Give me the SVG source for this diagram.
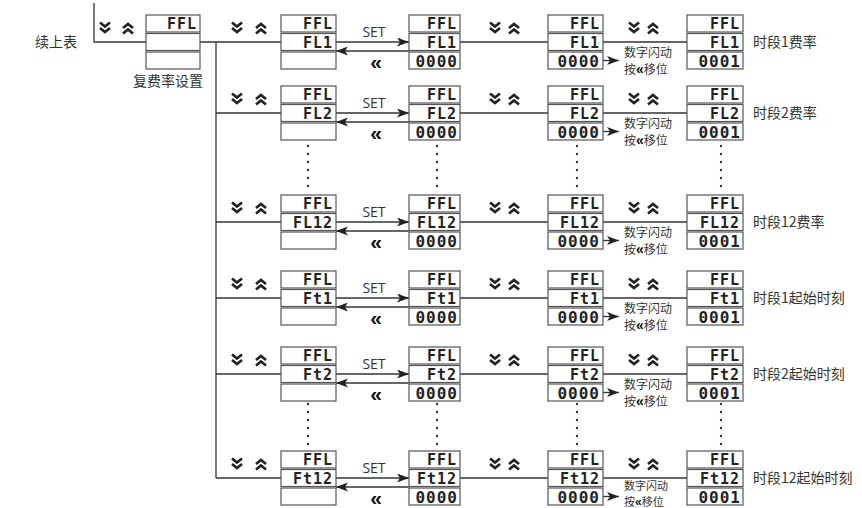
<svg xmlns="http://www.w3.org/2000/svg" width="862" height="508" viewBox="0 0 862 508">
<style>
.bg{fill:#fff}
.box{fill:#fff;stroke:#555;stroke-width:1.2}
.seg{font-family:"DejaVu Sans Mono",monospace;font-weight:bold;font-size:15px;fill:#222;text-anchor:end;letter-spacing:1px}
.dig{font-family:"DejaVu Sans Mono",monospace;font-weight:bold;font-size:16px;fill:#222;text-anchor:end;letter-spacing:1px}
.ln{stroke:#333;stroke-width:1.3;fill:none}
.arr{stroke:#333;stroke-width:1.3;fill:none;marker-end:url(#ah)}
.cjk{font-family:"Noto Sans CJK SC","Noto Sans",sans-serif;fill:#333}
.lbl{font-size:14px}
.sm{font-size:12px}
.xs{font-size:11px}
.set{font-family:"Open Sans","Liberation Sans",Arial,sans-serif;font-size:14px;fill:#333;text-anchor:middle}
.dbl{font-family:"Liberation Sans",Arial,sans-serif;font-weight:bold;font-size:21px;fill:#111;text-anchor:middle}
.bk{font-family:"Liberation Sans",Arial,sans-serif;font-weight:bold;font-size:14px;fill:#111}
.bks{font-family:"Liberation Sans",Arial,sans-serif;font-weight:bold;font-size:12px;fill:#111}
.chev{fill:none;stroke:#222;stroke-width:2.7}
.dot{fill:#333}
</style>
<defs>
<marker id="ah" markerWidth="12" markerHeight="9" refX="12" refY="4.5" orient="auto" markerUnits="userSpaceOnUse"><path d="M0,0 L12,4.5 L0,9 L3,4.5 z" fill="#222"/></marker>
<path id="cdn" class="chev" d="M-5,-5.5 L0,-1.5 L5,-5.5 M-5,0 L0,4 L5,0"/>
<path id="cup" class="chev" d="M-5,5.5 L0,1.5 L5,5.5 M-5,0 L0,-4 L5,0"/>
<g id="dots6"><circle cx="0" cy="0" r="1.2"/><circle cx="0" cy="8" r="1.2"/><circle cx="0" cy="16" r="1.2"/><circle cx="0" cy="24" r="1.2"/><circle cx="0" cy="32" r="1.2"/><circle cx="0" cy="40" r="1.2"/></g>
</defs>
<rect class="bg" x="0" y="0" width="862" height="508"/>

<!-- connectors -->
<g id="connectors">
<polyline class="ln" points="94,3 94,42 146,42"/>
<line class="ln" x1="200" y1="42" x2="281" y2="42"/>
<line class="ln" x1="216" y1="42" x2="216" y2="478"/>
<line class="ln" x1="216" y1="113" x2="281" y2="113"/>
<line class="ln" x1="216" y1="222" x2="281" y2="222"/>
<line class="ln" x1="216" y1="298" x2="281" y2="298"/>
<line class="ln" x1="216" y1="374" x2="281" y2="374"/>
<line class="ln" x1="216" y1="478" x2="281" y2="478"/>
<!-- row1 -->
<line class="arr" x1="336" y1="42" x2="409" y2="42"/>
<line class="arr" x1="409" y1="51" x2="336" y2="51"/>
<line class="ln" x1="460" y1="42" x2="548" y2="42"/>
<line class="ln" x1="603" y1="42" x2="687" y2="42"/>
<line class="arr" x1="603" y1="60.5" x2="619" y2="60.5"/>
<!-- row2 -->
<line class="arr" x1="336" y1="113" x2="409" y2="113"/>
<line class="arr" x1="409" y1="122" x2="336" y2="122"/>
<line class="ln" x1="460" y1="113" x2="548" y2="113"/>
<line class="ln" x1="603" y1="113" x2="687" y2="113"/>
<line class="arr" x1="603" y1="131.5" x2="619" y2="131.5"/>
<!-- row3 -->
<line class="arr" x1="336" y1="222" x2="409" y2="222"/>
<line class="arr" x1="409" y1="231" x2="336" y2="231"/>
<line class="ln" x1="460" y1="222" x2="548" y2="222"/>
<line class="ln" x1="603" y1="222" x2="687" y2="222"/>
<line class="arr" x1="603" y1="240.5" x2="619" y2="240.5"/>
<!-- row4 -->
<line class="arr" x1="336" y1="298" x2="409" y2="298"/>
<line class="arr" x1="409" y1="307" x2="336" y2="307"/>
<line class="ln" x1="460" y1="298" x2="548" y2="298"/>
<line class="ln" x1="603" y1="298" x2="687" y2="298"/>
<line class="arr" x1="603" y1="316.5" x2="619" y2="316.5"/>
<!-- row5 -->
<line class="arr" x1="336" y1="374" x2="409" y2="374"/>
<line class="arr" x1="409" y1="383" x2="336" y2="383"/>
<line class="ln" x1="460" y1="374" x2="548" y2="374"/>
<line class="ln" x1="603" y1="374" x2="687" y2="374"/>
<line class="arr" x1="603" y1="392.5" x2="619" y2="392.5"/>
<!-- row6 -->
<line class="arr" x1="336" y1="478" x2="409" y2="478"/>
<line class="arr" x1="409" y1="487" x2="336" y2="487"/>
<line class="ln" x1="460" y1="478" x2="548" y2="478"/>
<line class="ln" x1="603" y1="478" x2="687" y2="478"/>
<line class="arr" x1="603" y1="496.5" x2="619" y2="496.5"/>
<!-- dotted continuations -->
<g class="dot">
<use href="#dots6" x="308" y="146"/><use href="#dots6" x="437" y="146"/><use href="#dots6" x="577" y="146"/><use href="#dots6" x="721" y="146"/>
<use href="#dots6" x="308" y="404"/><use href="#dots6" x="437" y="404"/><use href="#dots6" x="577" y="404"/><use href="#dots6" x="721" y="404"/>
</g>
</g>

<!-- start node -->
<g id="start">
<text class="cjk lbl" x="35" y="47">续上表</text>
<use href="#cdn" x="105" y="28"/><use href="#cup" x="128" y="28"/>
<rect class="box" x="146" y="15" width="54" height="17"/>
<rect class="box" x="146" y="33.5" width="54" height="17"/>
<rect class="box" x="146" y="52" width="54" height="17"/>
<text class="seg" x="197" y="29">FFL</text>
<text class="cjk" font-size="14" x="133" y="86">复费率设置</text>
</g>

<!-- ROW 1 -->
<g id="r1-b1"><use href="#cdn" x="237" y="28"/><use href="#cup" x="261" y="28"/>
<rect class="box" x="281" y="15" width="55" height="17"/><rect class="box" x="281" y="33.5" width="55" height="17"/><rect class="box" x="281" y="52" width="55" height="17"/>
<text class="seg" x="333" y="29">FFL</text><text class="seg" x="333" y="47.5">FL1</text></g>
<g id="r1-set"><text class="set" x="374" y="37">SET</text><text class="dbl" x="376" y="69">«</text></g>
<g id="r1-b2"><rect class="box" x="409" y="15" width="51" height="17"/><rect class="box" x="409" y="33.5" width="51" height="17"/><rect class="box" x="409" y="52" width="51" height="17"/>
<text class="seg" x="457" y="29">FFL</text><text class="seg" x="457" y="47.5">FL1</text><text class="dig" x="458" y="66.5">0000</text></g>
<g id="r1-b3"><use href="#cdn" x="495" y="28"/><use href="#cup" x="514" y="28"/>
<rect class="box" x="548" y="15" width="55" height="17"/><rect class="box" x="548" y="33.5" width="55" height="17"/><rect class="box" x="548" y="52" width="55" height="17"/>
<text class="seg" x="600" y="29">FFL</text><text class="seg" x="600" y="47.5">FL1</text><text class="dig" x="600" y="66.5">0000</text>
<text class="cjk sm" x="624" y="57">数字闪动</text><text class="cjk sm" x="624" y="74">按<tspan class="bk">«</tspan>移位</text></g>
<g id="r1-b4"><use href="#cdn" x="634" y="28"/><use href="#cup" x="653" y="28"/>
<rect class="box" x="687" y="15" width="56" height="17"/><rect class="box" x="687" y="33.5" width="56" height="17"/><rect class="box" x="687" y="52" width="56" height="17"/>
<text class="seg" x="740" y="29">FFL</text><text class="seg" x="740" y="47.5">FL1</text><text class="dig" x="741" y="66.5">0001</text>
<text class="cjk lbl" x="753" y="47">时段1费率</text></g>

<!-- ROW 2 -->
<g id="r2-b1"><use href="#cdn" x="237" y="99"/><use href="#cup" x="261" y="99"/>
<rect class="box" x="281" y="86" width="55" height="17"/><rect class="box" x="281" y="104.5" width="55" height="17"/><rect class="box" x="281" y="123" width="55" height="17"/>
<text class="seg" x="333" y="100">FFL</text><text class="seg" x="333" y="118.5">FL2</text></g>
<g id="r2-set"><text class="set" x="374" y="108">SET</text><text class="dbl" x="376" y="140">«</text></g>
<g id="r2-b2"><rect class="box" x="409" y="86" width="51" height="17"/><rect class="box" x="409" y="104.5" width="51" height="17"/><rect class="box" x="409" y="123" width="51" height="17"/>
<text class="seg" x="457" y="100">FFL</text><text class="seg" x="457" y="118.5">FL2</text><text class="dig" x="458" y="137.5">0000</text></g>
<g id="r2-b3"><use href="#cdn" x="495" y="99"/><use href="#cup" x="514" y="99"/>
<rect class="box" x="548" y="86" width="55" height="17"/><rect class="box" x="548" y="104.5" width="55" height="17"/><rect class="box" x="548" y="123" width="55" height="17"/>
<text class="seg" x="600" y="100">FFL</text><text class="seg" x="600" y="118.5">FL2</text><text class="dig" x="600" y="137.5">0000</text>
<text class="cjk sm" x="624" y="128">数字闪动</text><text class="cjk sm" x="624" y="145">按<tspan class="bk">«</tspan>移位</text></g>
<g id="r2-b4"><use href="#cdn" x="634" y="99"/><use href="#cup" x="653" y="99"/>
<rect class="box" x="687" y="86" width="56" height="17"/><rect class="box" x="687" y="104.5" width="56" height="17"/><rect class="box" x="687" y="123" width="56" height="17"/>
<text class="seg" x="740" y="100">FFL</text><text class="seg" x="740" y="118.5">FL2</text><text class="dig" x="741" y="137.5">0001</text>
<text class="cjk lbl" x="753" y="118">时段2费率</text></g>

<!-- ROW 3 -->
<g id="r3-b1"><use href="#cdn" x="237" y="208"/><use href="#cup" x="261" y="208"/>
<rect class="box" x="281" y="195" width="55" height="17"/><rect class="box" x="281" y="213.5" width="55" height="17"/><rect class="box" x="281" y="232" width="55" height="17"/>
<text class="seg" x="333" y="209">FFL</text><text class="seg" x="333" y="227.5">FL12</text></g>
<g id="r3-set"><text class="set" x="374" y="217">SET</text><text class="dbl" x="376" y="249">«</text></g>
<g id="r3-b2"><rect class="box" x="409" y="195" width="51" height="17"/><rect class="box" x="409" y="213.5" width="51" height="17"/><rect class="box" x="409" y="232" width="51" height="17"/>
<text class="seg" x="457" y="209">FFL</text><text class="seg" x="457" y="227.5">FL12</text><text class="dig" x="458" y="246.5">0000</text></g>
<g id="r3-b3"><use href="#cdn" x="495" y="208"/><use href="#cup" x="514" y="208"/>
<rect class="box" x="548" y="195" width="55" height="17"/><rect class="box" x="548" y="213.5" width="55" height="17"/><rect class="box" x="548" y="232" width="55" height="17"/>
<text class="seg" x="600" y="209">FFL</text><text class="seg" x="600" y="227.5">FL12</text><text class="dig" x="600" y="246.5">0000</text>
<text class="cjk sm" x="624" y="237">数字闪动</text><text class="cjk sm" x="624" y="254">按<tspan class="bk">«</tspan>移位</text></g>
<g id="r3-b4"><use href="#cdn" x="634" y="208"/><use href="#cup" x="653" y="208"/>
<rect class="box" x="687" y="195" width="56" height="17"/><rect class="box" x="687" y="213.5" width="56" height="17"/><rect class="box" x="687" y="232" width="56" height="17"/>
<text class="seg" x="740" y="209">FFL</text><text class="seg" x="740" y="227.5">FL12</text><text class="dig" x="741" y="246.5">0001</text>
<text class="cjk lbl" x="753" y="227">时段12费率</text></g>

<!-- ROW 4 -->
<g id="r4-b1"><use href="#cdn" x="237" y="284"/><use href="#cup" x="261" y="284"/>
<rect class="box" x="281" y="271" width="55" height="17"/><rect class="box" x="281" y="289.5" width="55" height="17"/><rect class="box" x="281" y="308" width="55" height="17"/>
<text class="seg" x="333" y="285">FFL</text><text class="seg" x="333" y="303.5">Ft1</text></g>
<g id="r4-set"><text class="set" x="374" y="293">SET</text><text class="dbl" x="376" y="325">«</text></g>
<g id="r4-b2"><rect class="box" x="409" y="271" width="51" height="17"/><rect class="box" x="409" y="289.5" width="51" height="17"/><rect class="box" x="409" y="308" width="51" height="17"/>
<text class="seg" x="457" y="285">FFL</text><text class="seg" x="457" y="303.5">Ft1</text><text class="dig" x="458" y="322.5">0000</text></g>
<g id="r4-b3"><use href="#cdn" x="495" y="284"/><use href="#cup" x="514" y="284"/>
<rect class="box" x="548" y="271" width="55" height="17"/><rect class="box" x="548" y="289.5" width="55" height="17"/><rect class="box" x="548" y="308" width="55" height="17"/>
<text class="seg" x="600" y="285">FFL</text><text class="seg" x="600" y="303.5">Ft1</text><text class="dig" x="600" y="322.5">0000</text>
<text class="cjk sm" x="624" y="313">数字闪动</text><text class="cjk sm" x="624" y="330">按<tspan class="bk">«</tspan>移位</text></g>
<g id="r4-b4"><use href="#cdn" x="634" y="284"/><use href="#cup" x="653" y="284"/>
<rect class="box" x="687" y="271" width="56" height="17"/><rect class="box" x="687" y="289.5" width="56" height="17"/><rect class="box" x="687" y="308" width="56" height="17"/>
<text class="seg" x="740" y="285">FFL</text><text class="seg" x="740" y="303.5">Ft1</text><text class="dig" x="741" y="322.5">0001</text>
<text class="cjk lbl" x="753" y="303">时段1起始时刻</text></g>

<!-- ROW 5 -->
<g id="r5-b1"><use href="#cdn" x="237" y="360"/><use href="#cup" x="261" y="360"/>
<rect class="box" x="281" y="347" width="55" height="17"/><rect class="box" x="281" y="365.5" width="55" height="17"/><rect class="box" x="281" y="384" width="55" height="17"/>
<text class="seg" x="333" y="361">FFL</text><text class="seg" x="333" y="379.5">Ft2</text></g>
<g id="r5-set"><text class="set" x="374" y="369">SET</text><text class="dbl" x="376" y="401">«</text></g>
<g id="r5-b2"><rect class="box" x="409" y="347" width="51" height="17"/><rect class="box" x="409" y="365.5" width="51" height="17"/><rect class="box" x="409" y="384" width="51" height="17"/>
<text class="seg" x="457" y="361">FFL</text><text class="seg" x="457" y="379.5">Ft2</text><text class="dig" x="458" y="398.5">0000</text></g>
<g id="r5-b3"><use href="#cdn" x="495" y="360"/><use href="#cup" x="514" y="360"/>
<rect class="box" x="548" y="347" width="55" height="17"/><rect class="box" x="548" y="365.5" width="55" height="17"/><rect class="box" x="548" y="384" width="55" height="17"/>
<text class="seg" x="600" y="361">FFL</text><text class="seg" x="600" y="379.5">Ft2</text><text class="dig" x="600" y="398.5">0000</text>
<text class="cjk sm" x="624" y="389">数字闪动</text><text class="cjk sm" x="624" y="406">按<tspan class="bk">«</tspan>移位</text></g>
<g id="r5-b4"><use href="#cdn" x="634" y="360"/><use href="#cup" x="653" y="360"/>
<rect class="box" x="687" y="347" width="56" height="17"/><rect class="box" x="687" y="365.5" width="56" height="17"/><rect class="box" x="687" y="384" width="56" height="17"/>
<text class="seg" x="740" y="361">FFL</text><text class="seg" x="740" y="379.5">Ft2</text><text class="dig" x="741" y="398.5">0001</text>
<text class="cjk lbl" x="753" y="379">时段2起始时刻</text></g>

<!-- ROW 6 -->
<g id="r6-b1"><use href="#cdn" x="237" y="464"/><use href="#cup" x="261" y="464"/>
<rect class="box" x="281" y="451" width="55" height="17"/><rect class="box" x="281" y="469.5" width="55" height="17"/><rect class="box" x="281" y="488" width="55" height="17"/>
<text class="seg" x="333" y="465">FFL</text><text class="seg" x="333" y="483.5">Ft12</text></g>
<g id="r6-set"><text class="set" x="374" y="473">SET</text><text class="dbl" x="376" y="505">«</text></g>
<g id="r6-b2"><rect class="box" x="409" y="451" width="51" height="17"/><rect class="box" x="409" y="469.5" width="51" height="17"/><rect class="box" x="409" y="488" width="51" height="17"/>
<text class="seg" x="457" y="465">FFL</text><text class="seg" x="457" y="483.5">Ft12</text><text class="dig" x="458" y="502.5">0000</text></g>
<g id="r6-b3"><use href="#cdn" x="495" y="464"/><use href="#cup" x="514" y="464"/>
<rect class="box" x="548" y="451" width="55" height="17"/><rect class="box" x="548" y="469.5" width="55" height="17"/><rect class="box" x="548" y="488" width="55" height="17"/>
<text class="seg" x="600" y="465">FFL</text><text class="seg" x="600" y="483.5">Ft12</text><text class="dig" x="600" y="502.5">0000</text>
<text class="cjk xs" x="624" y="489.5">数字闪动</text><text class="cjk xs" x="624" y="505.5">按<tspan class="bks">«</tspan>移位</text></g>
<g id="r6-b4"><use href="#cdn" x="634" y="464"/><use href="#cup" x="653" y="464"/>
<rect class="box" x="687" y="451" width="56" height="17"/><rect class="box" x="687" y="469.5" width="56" height="17"/><rect class="box" x="687" y="488" width="56" height="17"/>
<text class="seg" x="740" y="465">FFL</text><text class="seg" x="740" y="483.5">Ft12</text><text class="dig" x="741" y="502.5">0001</text>
<text class="cjk lbl" x="753" y="483">时段12起始时刻</text></g>
</svg>
